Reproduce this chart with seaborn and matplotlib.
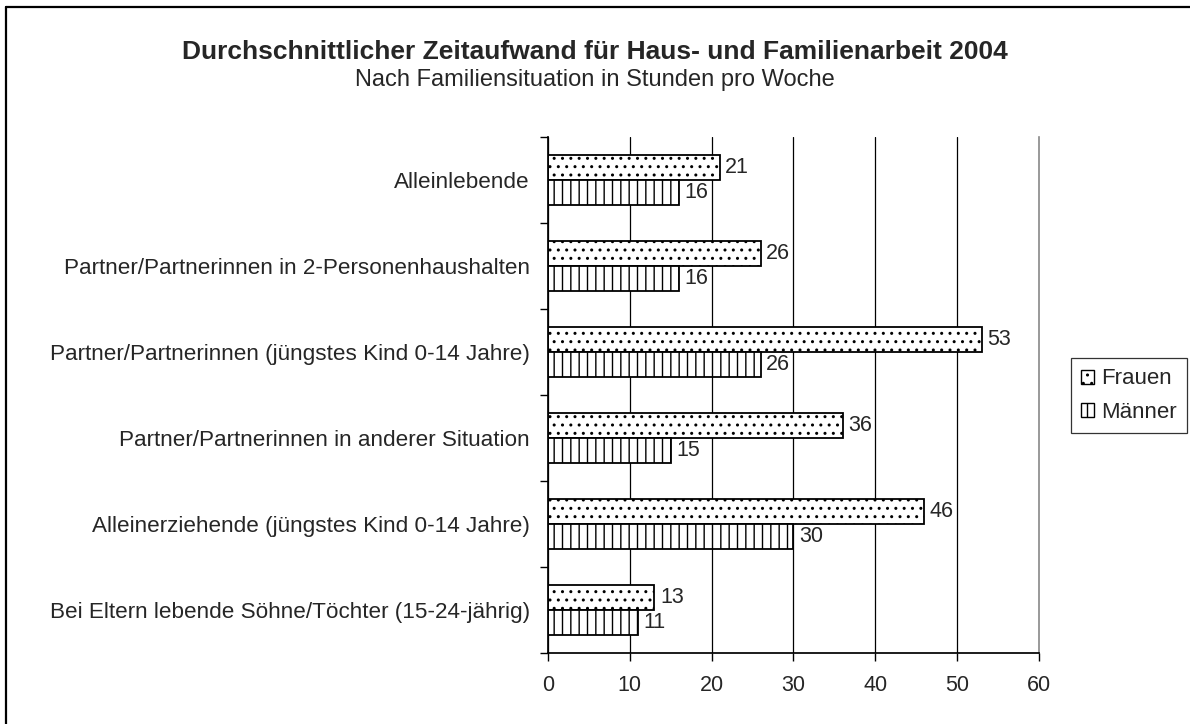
import matplotlib
matplotlib.use("Agg")
import matplotlib.pyplot as plt
from matplotlib.lines import Line2D
from matplotlib.patches import Patch
import pandas as pd
import seaborn as sns

CATEGORIES = [
    "Alleinlebende",
    "Partner/Partnerinnen in 2-Personenhaushalten",
    "Partner/Partnerinnen (jüngstes Kind 0-14 Jahre)",
    "Partner/Partnerinnen in anderer Situation",
    "Alleinerziehende (jüngstes Kind 0-14 Jahre)",
    "Bei Eltern lebende Söhne/Töchter (15-24-jährig)",
]
FRAUEN = [21, 26, 53, 36, 46, 13]
MAENNER = [16, 16, 26, 15, 30, 11]
SERIES = ["Frauen", "Männer"]
HATCHES = {"Frauen": "..", "Männer": "||"}

sns.set_theme(style="white")
plt.rcParams["font.family"] = ["Liberation Sans", "DejaVu Sans"]
plt.rcParams["hatch.linewidth"] = 1.0
plt.rcParams["hatch.color"] = "black"

df = pd.DataFrame({
    "Kategorie": CATEGORIES * 2,
    "Stunden": FRAUEN + MAENNER,
    "Gruppe": ["Frauen"] * len(CATEGORIES) + ["Männer"] * len(CATEGORIES),
})

fig = plt.figure(figsize=(11.9, 7.24), dpi=100)
ax = fig.add_axes([0.4605, 0.098, 0.4125, 0.713])

sns.barplot(
    data=df, y="Kategorie", x="Stunden", hue="Gruppe", hue_order=SERIES,
    order=CATEGORIES, orient="h", width=0.58, palette=["white", "white"],
    edgecolor="black", linewidth=1.3, ax=ax, legend=False,
)

# hatch patterns per series + value labels
for container, name in zip(ax.containers, SERIES):
    for bar in container:
        bar.set_hatch(HATCHES[name])
    ax.bar_label(container, padding=4, fontsize=15.5)

ax.set_xlim(0, 60)
ax.set_xticks(range(0, 61, 10))
ax.set_ylim(len(CATEGORIES) - 0.5, -0.5)
ax.set_yticks([i - 0.5 for i in range(len(CATEGORIES) + 1)])
ax.set_yticklabels([])
ax.set_yticks(range(len(CATEGORIES)), minor=True)
ax.set_yticklabels(CATEGORIES, minor=True, fontsize=16.2)
ax.tick_params(axis="y", which="major", length=6, width=1, color="black", direction="out", left=True)
ax.tick_params(axis="y", which="minor", length=0, pad=13)
ax.tick_params(axis="x", length=6, width=1, color="black", direction="out", bottom=True,
               labelsize=15.5, pad=10)
ax.set_xlabel("")
ax.set_ylabel("")
ax.xaxis.grid(True, color="black", linewidth=0.9)
ax.xaxis.get_gridlines()[-1].set_visible(False)
ax.set_axisbelow(True)
ax.spines["top"].set_visible(False)
ax.spines["right"].set_color("#888888")
ax.spines["right"].set_linewidth(1.2)
ax.spines["left"].set_color("black")
ax.spines["bottom"].set_color("black")

# legend
handles = [Patch(facecolor="white", edgecolor="black", hatch=HATCHES[s], label=s) for s in SERIES]
leg = fig.legend(
    handles=handles, loc="center", bbox_to_anchor=(0.9485, 0.4537), fontsize=16,
    frameon=True, fancybox=False, edgecolor="black", handlelength=0.6,
    handleheight=0.6, handletextpad=0.3, borderpad=0.45, labelspacing=0.55,
    borderaxespad=0,
)
leg.get_frame().set_linewidth(0.9)

fig.text(0.5, 0.928, "Durchschnittlicher Zeitaufwand für Haus- und Familienarbeit 2004",
         ha="center", va="center", fontsize=19, fontweight="bold")
fig.text(0.5, 0.889, "Nach Familiensituation in Stunden pro Woche",
         ha="center", va="center", fontsize=17)

# outer frame: only top and left edges fall inside the picture
fig.lines.append(Line2D([0.005, 0.005], [0.0, 0.9905], transform=fig.transFigure,
                        color="black", linewidth=1.6))
fig.lines.append(Line2D([0.005, 1.0], [0.9905, 0.9905], transform=fig.transFigure,
                        color="black", linewidth=1.6))

fig.savefig("out.png", dpi=100, facecolor="white")
